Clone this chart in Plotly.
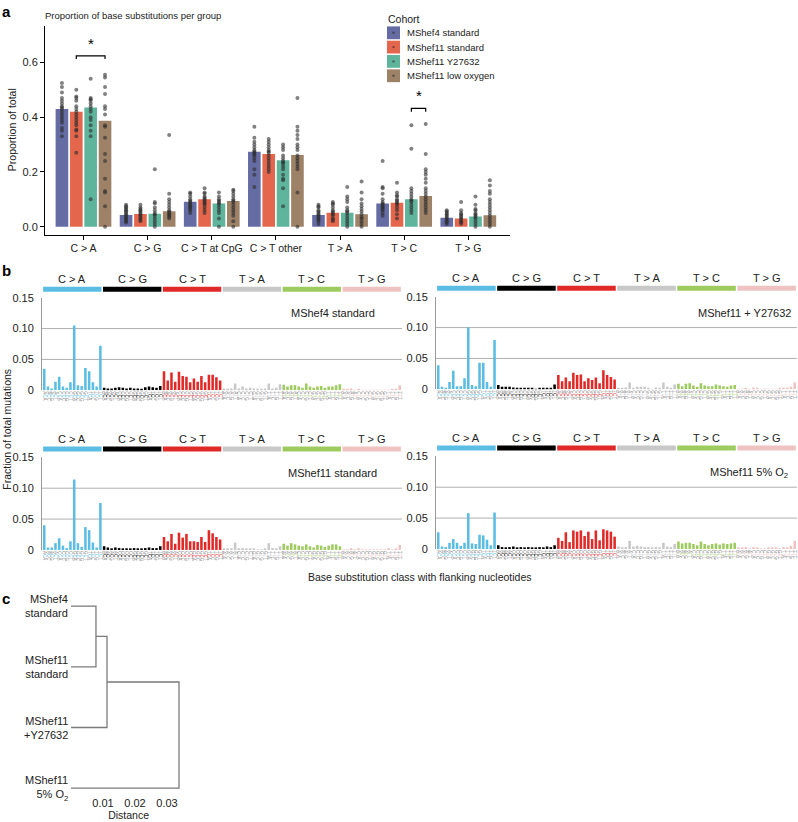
import plotly.graph_objects as go

W, H = 798, 822
FONT = "Liberation Sans, Arial, sans-serif"


def px_x(x):
    return x / W


def px_y(y):
    return 1 - y / H


# ---------------- Panel a data ----------------
group_labels = ["C > A", "C > G", "C > T at CpG", "C > T other", "T > A", "T > C", "T > G"]
cohorts = ["MShef4 standard", "MShef11 standard", "MShef11 Y27632", "MShef11 low oxygen"]
cohort_colors = ["#656ba3", "#e4674d", "#5fb59c", "#9d8267"]

mean_mshef4 = [0.430, 0.043, 0.091, 0.274, 0.043, 0.085, 0.033]
mean_mshef11 = [0.420, 0.046, 0.100, 0.265, 0.051, 0.087, 0.030]
mean_y27632 = [0.435, 0.047, 0.085, 0.243, 0.051, 0.100, 0.037]
mean_lowo2 = [0.387, 0.056, 0.094, 0.262, 0.045, 0.112, 0.042]

pts_mshef4 = [
    [0.525, 0.51, 0.49, 0.47, 0.46, 0.45, 0.44, 0.435, 0.43, 0.42, 0.41, 0.40, 0.39, 0.38, 0.36, 0.35, 0.33],
    [0.08, 0.075, 0.07, 0.065, 0.06, 0.055, 0.05, 0.045, 0.04, 0.035, 0.03, 0.025, 0.02, 0.015],
    [0.125, 0.12, 0.11, 0.10, 0.095, 0.09, 0.085, 0.08, 0.075, 0.07, 0.065, 0.06, 0.05],
    [0.365, 0.325, 0.31, 0.30, 0.29, 0.28, 0.275, 0.27, 0.265, 0.26, 0.25, 0.24, 0.21, 0.19, 0.145],
    [0.08, 0.075, 0.07, 0.06, 0.055, 0.05, 0.045, 0.04, 0.035, 0.03, 0.025, 0.02, 0.01],
    [0.24, 0.145, 0.14, 0.12, 0.10, 0.09, 0.085, 0.08, 0.075, 0.07, 0.065, 0.06, 0.05, 0.04],
    [0.06, 0.055, 0.05, 0.045, 0.04, 0.035, 0.03, 0.025, 0.02, 0.015, 0.01],
]
pts_mshef11 = [
    [0.50, 0.475, 0.47, 0.46, 0.44, 0.43, 0.42, 0.41, 0.40, 0.39, 0.38, 0.37, 0.355, 0.35, 0.33, 0.27],
    [0.08, 0.07, 0.065, 0.06, 0.055, 0.05, 0.045, 0.04, 0.035, 0.03, 0.025, 0.02],
    [0.14, 0.125, 0.12, 0.11, 0.105, 0.10, 0.095, 0.09, 0.085, 0.08, 0.07, 0.06, 0.05],
    [0.32, 0.31, 0.30, 0.29, 0.28, 0.275, 0.27, 0.26, 0.25, 0.24, 0.23, 0.22, 0.21, 0.20],
    [0.09, 0.085, 0.08, 0.07, 0.06, 0.055, 0.05, 0.045, 0.04, 0.03, 0.025, 0.02],
    [0.16, 0.125, 0.115, 0.11, 0.10, 0.095, 0.09, 0.085, 0.08, 0.07, 0.06, 0.045, 0.03],
    [0.09, 0.06, 0.05, 0.045, 0.04, 0.035, 0.03, 0.025, 0.02, 0.015, 0.01],
]
pts_y27632 = [
    [0.54, 0.47, 0.465, 0.46, 0.45, 0.44, 0.43, 0.42, 0.40, 0.39, 0.37, 0.35, 0.33, 0.10],
    [0.21, 0.09, 0.085, 0.07, 0.06, 0.05, 0.045, 0.04, 0.03, 0.02, 0.01, 0.0],
    [0.125, 0.11, 0.10, 0.095, 0.09, 0.085, 0.08, 0.07, 0.06, 0.05, 0.03, 0.0],
    [0.30, 0.29, 0.28, 0.26, 0.25, 0.24, 0.235, 0.23, 0.22, 0.21, 0.19, 0.175, 0.17, 0.14, 0.075],
    [0.145, 0.11, 0.10, 0.09, 0.07, 0.06, 0.055, 0.05, 0.04, 0.03, 0.02, 0.01, 0.0],
    [0.37, 0.285, 0.14, 0.13, 0.12, 0.11, 0.10, 0.095, 0.09, 0.08, 0.07, 0.06, 0.05],
    [0.11, 0.08, 0.065, 0.06, 0.05, 0.045, 0.04, 0.035, 0.03, 0.02, 0.01, 0.0],
]
pts_lowo2 = [
    [0.555, 0.545, 0.51, 0.485, 0.44, 0.43, 0.41, 0.37, 0.365, 0.325, 0.265, 0.24, 0.175, 0.13, 0.125, 0.075, 0.0],
    [0.335, 0.12, 0.10, 0.09, 0.08, 0.07, 0.06, 0.055, 0.05, 0.045, 0.04, 0.035, 0.03],
    [0.135, 0.13, 0.12, 0.11, 0.10, 0.095, 0.09, 0.08, 0.07, 0.06, 0.05, 0.04, 0.02, 0.0],
    [0.47, 0.365, 0.35, 0.335, 0.32, 0.30, 0.29, 0.28, 0.26, 0.25, 0.24, 0.23, 0.22, 0.21, 0.125, 0.0],
    [0.165, 0.125, 0.10, 0.085, 0.075, 0.065, 0.055, 0.045, 0.035, 0.03, 0.02, 0.01, 0.0],
    [0.375, 0.265, 0.21, 0.20, 0.19, 0.175, 0.16, 0.14, 0.13, 0.12, 0.11, 0.10, 0.09, 0.08, 0.07, 0.06, 0.05],
    [0.17, 0.15, 0.13, 0.12, 0.10, 0.09, 0.08, 0.07, 0.06, 0.05, 0.04, 0.03, 0.02, 0.01, 0.0],
]

# significance brackets: (group index, cohort a, cohort b, bracket height)
sig_pairs = [(0, 1, 3, 0.624), (5, 2, 3, 0.432)]

# ---------------- Panel b data ----------------
sub_classes = ["C > A", "C > G", "C > T", "T > A", "T > C", "T > G"]
class_colors = ["#5bbde4", "#000000", "#e02a28", "#c8c8c8", "#9ecb5f", "#efc3c2"]
bases = ["A", "C", "G", "T"]
ref_bases = ["C", "C", "C", "T", "T", "T"]

prof_mshef4_std = (
    [0.035, 0.006, 0.003, 0.014, 0.022, 0.006, 0.004, 0.013, 0.105, 0.008, 0.007, 0.036, 0.031, 0.013, 0.006, 0.072]
    + [0.004, 0.003, 0.003, 0.004, 0.005, 0.004, 0.003, 0.004, 0.003, 0.003, 0.002, 0.005, 0.006, 0.005, 0.004, 0.007]
    + [0.031, 0.016, 0.029, 0.014, 0.030, 0.023, 0.022, 0.013, 0.019, 0.014, 0.023, 0.013, 0.025, 0.025, 0.021, 0.016]
    + [0.003, 0.003, 0.003, 0.011, 0.003, 0.006, 0.003, 0.004, 0.003, 0.002, 0.002, 0.003, 0.011, 0.003, 0.004, 0.010]
    + [0.009, 0.006, 0.008, 0.008, 0.006, 0.004, 0.011, 0.006, 0.004, 0.006, 0.007, 0.004, 0.006, 0.006, 0.008, 0.010]
    + [0.002, 0.002, 0.003, 0.001, 0.002, 0.001, 0.001, 0.001, 0.001, 0.001, 0.001, 0.001, 0.001, 0.002, 0.002, 0.008]
)
prof_mshef11_y27632 = (
    [0.039, 0.004, 0.002, 0.012, 0.030, 0.005, 0.005, 0.018, 0.100, 0.007, 0.005, 0.043, 0.043, 0.012, 0.004, 0.080]
    + [0.007, 0.004, 0.004, 0.004, 0.003, 0.002, 0.002, 0.002, 0.002, 0.002, 0.001, 0.002, 0.002, 0.002, 0.002, 0.008]
    + [0.023, 0.013, 0.019, 0.013, 0.027, 0.023, 0.024, 0.013, 0.018, 0.015, 0.019, 0.010, 0.031, 0.023, 0.020, 0.016]
    + [0.002, 0.002, 0.003, 0.011, 0.002, 0.004, 0.004, 0.004, 0.002, 0.001, 0.003, 0.002, 0.011, 0.004, 0.002, 0.008]
    + [0.009, 0.005, 0.009, 0.010, 0.006, 0.004, 0.010, 0.006, 0.005, 0.005, 0.008, 0.006, 0.005, 0.004, 0.006, 0.007]
    + [0.001, 0.001, 0.002, 0.001, 0.003, 0.002, 0.001, 0.001, 0.001, 0.001, 0.001, 0.002, 0.002, 0.002, 0.004, 0.011]
)
prof_mshef11_std = (
    [0.040, 0.004, 0.004, 0.011, 0.019, 0.007, 0.003, 0.014, 0.114, 0.011, 0.005, 0.037, 0.032, 0.012, 0.004, 0.076]
    + [0.006, 0.004, 0.002, 0.004, 0.003, 0.002, 0.002, 0.002, 0.003, 0.002, 0.002, 0.003, 0.004, 0.003, 0.003, 0.006]
    + [0.021, 0.014, 0.026, 0.010, 0.028, 0.020, 0.026, 0.014, 0.014, 0.013, 0.021, 0.013, 0.032, 0.027, 0.021, 0.017]
    + [0.002, 0.002, 0.002, 0.012, 0.002, 0.003, 0.002, 0.002, 0.002, 0.001, 0.001, 0.002, 0.011, 0.003, 0.002, 0.006]
    + [0.010, 0.007, 0.011, 0.009, 0.007, 0.006, 0.009, 0.006, 0.004, 0.008, 0.007, 0.005, 0.007, 0.009, 0.009, 0.006]
    + [0.001, 0.001, 0.002, 0.001, 0.002, 0.001, 0.001, 0.001, 0.001, 0.001, 0.001, 0.001, 0.003, 0.001, 0.002, 0.008]
)
prof_mshef11_5o2 = (
    [0.027, 0.004, 0.003, 0.010, 0.016, 0.010, 0.005, 0.010, 0.058, 0.009, 0.008, 0.023, 0.022, 0.015, 0.006, 0.059]
    + [0.006, 0.003, 0.002, 0.003, 0.004, 0.002, 0.003, 0.002, 0.003, 0.002, 0.002, 0.003, 0.002, 0.004, 0.003, 0.006]
    + [0.018, 0.013, 0.027, 0.011, 0.030, 0.028, 0.030, 0.021, 0.028, 0.016, 0.030, 0.014, 0.032, 0.030, 0.028, 0.020]
    + [0.004, 0.003, 0.003, 0.013, 0.004, 0.005, 0.004, 0.003, 0.003, 0.002, 0.003, 0.002, 0.010, 0.004, 0.003, 0.008]
    + [0.012, 0.009, 0.010, 0.010, 0.008, 0.006, 0.012, 0.008, 0.006, 0.008, 0.009, 0.007, 0.009, 0.008, 0.009, 0.010]
    + [0.002, 0.002, 0.003, 0.001, 0.003, 0.002, 0.001, 0.001, 0.002, 0.002, 0.002, 0.001, 0.003, 0.002, 0.005, 0.013]
)
profile_names = ["MShef4 standard", "MShef11 + Y27632", "MShef11 standard", "MShef11 5% O<sub>2</sub>"]

# ---------------- Panel c data ----------------
leaf_labels = ["MShef4<br>standard", "MShef11<br>standard", "MShef11<br>+Y27632", "MShef11<br>5% O<sub>2</sub>"]
merge_heights = [0.0078, 0.01125, 0.03375]
dist_ticks = [0.01, 0.02, 0.03]

# =====================================================
fig = go.Figure()
shapes = []
annotations = []

# ---------------- Panel a ----------------
bar_step, bar_w = 0.224, 0.197
means_all = [mean_mshef4, mean_mshef11, mean_y27632, mean_lowo2]
pts_all = [pts_mshef4, pts_mshef11, pts_y27632, pts_lowo2]
for j, (means, col) in enumerate(zip(means_all, cohort_colors)):
    off = (j - 1.5) * bar_step
    fig.add_trace(go.Bar(x=[i + off for i in range(len(group_labels))], y=means, width=bar_w,
                         marker=dict(color=col, line_width=0), name=cohorts[j],
                         xaxis="x", yaxis="y", showlegend=False))
for j, pts in enumerate(pts_all):
    off = (j - 1.5) * bar_step
    xs, ys = [], []
    for i, p in enumerate(pts):
        xs += [i + off] * len(p)
        ys += p
    fig.add_trace(go.Scatter(x=xs, y=ys, mode="markers",
                             marker=dict(size=4, color="rgba(45,45,45,0.6)", line_width=0),
                             xaxis="x", yaxis="y", showlegend=False, hoverinfo="skip"))

for gi, a, b, hgt in sig_pairs:
    xa = gi + (a - 1.5) * bar_step
    xb = gi + (b - 1.5) * bar_step
    shapes.append(dict(type="path", xref="x", yref="y",
                       path=f"M {xa},{hgt-0.012} L {xa},{hgt} L {xb},{hgt} L {xb},{hgt-0.012}",
                       line=dict(color="black", width=1.2)))
    annotations.append(dict(x=(xa + xb) / 2, y=hgt + 0.008, xref="x", yref="y", text="*",
                            showarrow=False, yanchor="bottom", xanchor="center",
                            font=dict(size=15, color="black")))

annotations.append(dict(x=px_x(43), y=px_y(10), xref="paper", yref="paper", xanchor="left", yanchor="middle",
                        text="Proportion of base substitutions per group", showarrow=False,
                        font=dict(size=9.5, color="#222")))
annotations.append(dict(x=px_x(12), y=px_y(126), xref="paper", yref="paper", text="Proportion of total",
                        xanchor="center", yanchor="middle",
                        textangle=-90, showarrow=False, font=dict(size=10.5, color="#222")))
# legend
annotations.append(dict(x=px_x(386), y=px_y(13), xref="paper", yref="paper", xanchor="left",
                        yanchor="middle", text="Cohort", showarrow=False, font=dict(size=10.5, color="#222")))
leg_tops = [20.7, 35.2, 49.7, 64.3]
for j, (name, col) in enumerate(zip(cohorts, cohort_colors)):
    t = leg_tops[j]
    shapes.append(dict(type="rect", xref="paper", yref="paper", x0=px_x(387), x1=px_x(400),
                       y0=px_y(t + 13), y1=px_y(t), fillcolor=col, line_width=0))
    shapes.append(dict(type="circle", xref="paper", yref="paper", x0=px_x(392.3), x1=px_x(394.7),
                       y0=px_y(t + 7.7), y1=px_y(t + 5.3), fillcolor="rgba(45,45,45,0.6)", line_width=0))
    annotations.append(dict(x=px_x(405), y=px_y(t + 6.5), xref="paper", yref="paper", xanchor="left",
                            yanchor="middle", text=name, showarrow=False, font=dict(size=9.5, color="#222")))

# ---------------- Panel b ----------------
contexts = []
for c in range(6):
    for b5 in bases:
        for b3 in bases:
            contexts.append(
                f"{b5}<span style='color:{class_colors[c] if c != 1 else '#000'}'>{ref_bases[c]}</span>{b3}")
bar_colors = [class_colors[c] for c in range(6) for _ in range(16)]

profiles = [prof_mshef4_std, prof_mshef11_y27632, prof_mshef11_std, prof_mshef11_5o2]
# (left, right, top(0.15), bottom(0)) in px
boxes = [(42, 402, 296, 390), (436, 797, 295, 389), (42, 402, 458, 552), (436, 797, 457, 551)]
name_pos = [(377, 312), (793, 312), (379, 474), (790, 474)]

layout_axes = {}
for k, (prof, box) in enumerate(zip(profiles, boxes)):
    n = k + 2
    l, r, t, btm = box
    fig.add_trace(go.Bar(x=list(range(96)), y=prof, width=0.68,
                         marker=dict(color=bar_colors, line_width=0),
                         xaxis=f"x{n}", yaxis=f"y{n}", showlegend=False))
    layout_axes[f"xaxis{n}"] = dict(domain=[px_x(l), px_x(r)], range=[-0.6, 95.6], anchor=f"y{n}",
                                    tickmode="array", tickvals=list(range(96)), ticktext=contexts,
                                    tickangle=90, tickfont=dict(size=4.5, color="#8a8a8a", family=FONT),
                                    ticks="", showline=False, showgrid=False, zeroline=False)
    layout_axes[f"yaxis{n}"] = dict(domain=[px_y(btm), px_y(t)], range=[0, 0.15], anchor=f"x{n}",
                                    tickmode="array", tickvals=[0, 0.05, 0.10, 0.15],
                                    ticktext=["0", "0.05", "0.10", "0.15"],
                                    tickfont=dict(size=11, color="#222"), ticks="",
                                    ticklabelstandoff=5,
                                    showline=True, linecolor="#9a9a9a", linewidth=1,
                                    showgrid=False, zeroline=False)
    for v in [0.05, 0.10]:
        shapes.append(dict(type="line", xref=f"x{n} domain", yref=f"y{n}", x0=0, x1=1, y0=v, y1=v,
                           line=dict(color="#b0b0b0", width=1), layer="below"))
    # strip + class headers
    s_top = t - 11
    for c in range(6):
        shapes.append(dict(type="rect", xref=f"x{n}", yref="paper",
                           x0=16 * c - 0.5 + 0.2, x1=16 * c + 15.5 - 0.2,
                           y0=px_y(s_top + 5), y1=px_y(s_top), fillcolor=class_colors[c], line_width=0))
        annotations.append(dict(x=16 * c + 7.5, y=px_y(s_top - 8), xref=f"x{n}", yref="paper",
                                text=sub_classes[c], showarrow=False, yanchor="middle", xanchor="center",
                                font=dict(size=11, color="#222")))
    nx, ny = name_pos[k]
    annotations.append(dict(x=px_x(nx), y=px_y(ny), xref="paper", yref="paper", xanchor="right",
                            yanchor="middle", text=profile_names[k], showarrow=False,
                            font=dict(size=11, color="#222")))

annotations.append(dict(x=px_x(7), y=px_y(430), xref="paper", yref="paper", text="Fraction of total mutations",
                        xanchor="center", yanchor="middle",
                        textangle=-90, showarrow=False, font=dict(size=10.5, color="#222")))
annotations.append(dict(x=px_x(420), y=px_y(579), xref="paper", yref="paper",
                        xanchor="center", yanchor="middle",
                        text="Base substitution class with flanking nucleotides",
                        showarrow=False, font=dict(size=10.5, color="#222")))

# ---------------- Panel c ----------------
c_range = [3.12, -0.25]
c_top = 593.6
px_per_unit = 61.6
c_bot = c_top + (c_range[0] - c_range[1]) * px_per_unit
leaf_y = list(range(len(leaf_labels)))
node_y = [(leaf_y[0] + leaf_y[1]) / 2]
node_y.append((node_y[0] + leaf_y[2]) / 2)
node_y.append((node_y[1] + leaf_y[3]) / 2)
seg_x, seg_y = [], []
h = merge_heights
for (ya, xa), (yb, xb), hh in [((leaf_y[0], 0), (leaf_y[1], 0), h[0]),
                               ((node_y[0], h[0]), (leaf_y[2], 0), h[1]),
                               ((node_y[1], h[1]), (leaf_y[3], 0), h[2])]:
    seg_x += [xa, hh, hh, xb, None]
    seg_y += [ya, ya, yb, yb, None]
fig.add_trace(go.Scatter(x=seg_x, y=seg_y, mode="lines", line=dict(color="#7a7a7a", width=1.3),
                         xaxis="x6", yaxis="y6", showlegend=False, hoverinfo="skip"))
for i, lab in enumerate(leaf_labels):
    ypx = c_top + (leaf_y[i] - c_range[1]) * px_per_unit
    annotations.append(dict(x=px_x(70), y=px_y(ypx), xref="paper", yref="paper", xanchor="right",
                            yanchor="middle", text=lab, showarrow=False, align="right",
                            font=dict(size=11, color="#222")))

layout_axes["xaxis6"] = dict(domain=[px_x(71), px_x(71 + 0.036 * 3200)], range=[0, 0.036], anchor="y6",
                             tickmode="array", tickvals=dist_ticks, ticktext=["0.01", "0.02", "0.03"],
                             tickfont=dict(size=11, color="#222"), ticks="", showline=False, showgrid=False,
                             zeroline=False,
                             title=dict(text="Distance", font=dict(size=10.5, color="#222"), standoff=3))
layout_axes["yaxis6"] = dict(domain=[px_y(c_bot), px_y(c_top)], range=c_range, anchor="x6",
                             visible=False, showgrid=False, zeroline=False)

# panel letters
for letter, yy in [("a", 6), ("b", 268), ("c", 601)]:
    annotations.append(dict(x=px_x(0), y=px_y(yy), xref="paper", yref="paper", xanchor="left",
                            yanchor="middle", text=f"<b>{letter}</b>", showarrow=False,
                            font=dict(size=15, color="black")))

fig.update_layout(
    width=W, height=H, margin=dict(l=0, r=0, t=0, b=0),
    paper_bgcolor="white", plot_bgcolor="white",
    font=dict(family=FONT, color="#222"),
    barmode="overlay", showlegend=False,
    xaxis=dict(domain=[px_x(45), px_x(510)], range=[-0.6, 6.65], anchor="y",
               tickmode="array", tickvals=list(range(len(group_labels))), ticktext=group_labels,
               tickfont=dict(size=10.5, color="#222"), ticks="outside", ticklen=4, tickcolor="black",
               showline=True, linecolor="black", linewidth=1, showgrid=False, zeroline=False),
    yaxis=dict(domain=[px_y(232), px_y(20)], range=[-0.029, 0.734], anchor="x",
               tickmode="array", tickvals=[0, 0.2, 0.4, 0.6], ticktext=["0.0", "0.2", "0.4", "0.6"],
               tickfont=dict(size=11, color="#222"), ticks="outside", ticklen=4, tickcolor="black",
               showline=True, linecolor="black", linewidth=1, showgrid=False, zeroline=False),
    shapes=shapes, annotations=annotations,
    **layout_axes,
)

fig.write_html("out.html", config={"displayModeBar": False},
               post_script="document.body.style.margin='0px';document.body.style.overflow='hidden';")
